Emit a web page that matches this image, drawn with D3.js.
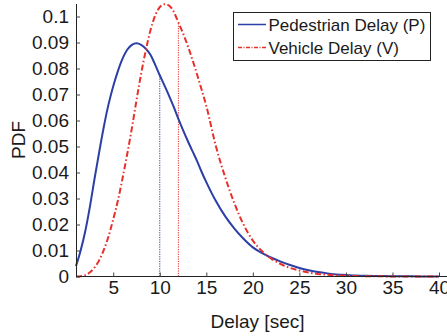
<!DOCTYPE html>
<html>
<head>
<meta charset="utf-8">
<script src="https://cdn.jsdelivr.net/npm/d3@7"></script>
<style>
  body { margin: 0; background: #fff; }
  svg { display: block; }
  text { font-family: "Liberation Sans", Arial, Helvetica, sans-serif; fill: #1a1a1a; }
</style>
</head>
<body>
<svg id="chart" width="447" height="336"></svg>
<script>
// Delay values (seconds) at which both densities are sampled
const delay = [1, 1.5, 2, 2.5, 3, 3.5, 4, 4.5, 5, 5.5, 6, 6.5, 7, 7.5, 8, 8.5, 9, 9.5,
  10, 10.5, 11, 11.5, 12, 12.5, 13, 13.5, 14, 14.5, 15,
  16, 17, 18, 19, 20, 21, 22, 23, 24, 25, 26, 27, 28, 29, 30,
  31, 32, 33, 34, 35, 36, 37, 38, 39, 40];

// Pedestrian delay PDF
const pedestrianPdf = [0.0040, 0.0100, 0.0175, 0.0270, 0.0378, 0.0480, 0.0578, 0.0663, 0.0732, 0.0790,
  0.0838, 0.0872, 0.0891, 0.0897, 0.0891, 0.0876, 0.0853, 0.0815,
  0.0774, 0.0735, 0.0695, 0.0652, 0.0606, 0.0563, 0.0522, 0.0483, 0.0445, 0.0402, 0.0363,
  0.0292, 0.0233, 0.0185, 0.0145, 0.0112, 0.0090, 0.0072, 0.0057, 0.0044, 0.0033, 0.0024,
  0.0017, 0.0012, 0.0008, 0.0006, 0.0004, 0.0003, 0.0002, 0.00015, 0.0001, 0.00007,
  0.00005, 0.00004, 0.00003, 0.00002];

// Vehicle delay PDF
const vehiclePdf = [0.0000, 0.0001, 0.0005, 0.0016, 0.0035, 0.0063, 0.0103, 0.0155, 0.0220, 0.0292,
  0.0378, 0.0470, 0.0570, 0.0678, 0.0780, 0.0870, 0.0947, 0.1003,
  0.1036, 0.1047, 0.1042, 0.1018, 0.0977, 0.0935, 0.0888, 0.0835, 0.0778, 0.0718, 0.0656,
  0.0505, 0.0385, 0.0283, 0.0200, 0.0138, 0.0097, 0.0068, 0.0048, 0.0033, 0.0023, 0.0015,
  0.0010, 0.0007, 0.0004, 0.0003, 0.0002, 0.00013, 0.00008, 0.00005, 0.00003, 0.00002,
  0.00001, 0.00001, 0.0, 0.0];

// Mean delays marked with dotted lines: pedestrian, vehicle
const meanDelays = [10, 12];
const seriesNames = ["Pedestrian Delay (P)", "Vehicle Delay (V)"];
const seriesColors = ["#2b3fa6", "#e8302a"];

const xTicks = [5, 10, 15, 20, 25, 30, 35, 40];
const yTicks = [0, 0.01, 0.02, 0.03, 0.04, 0.05, 0.06, 0.07, 0.08, 0.09, 0.1];
const yTickLabels = ["0", "0.01", "0.02", "0.03", "0.04", "0.05", "0.06", "0.07", "0.08", "0.09", "0.1"];

const svg = d3.select("#chart");
const plot = { left: 76, right: 439, top: 3.5, bottom: 276.5 };

const x = d3.scaleLinear().domain([1, 40]).range([plot.left, plot.right]);
const y = d3.scaleLinear().domain([0, 0.105]).range([plot.bottom, plot.top]);

const series = [pedestrianPdf, vehiclePdf].map((vals, i) => ({
  name: seriesNames[i],
  color: seriesColors[i],
  mean: meanDelays[i],
  points: delay.map((d, j) => ({ x: d, y: vals[j] }))
}));

// Dotted mean markers, rising from the axis to each curve
series.forEach(s => {
  const at = s.points.find(p => p.x === s.mean);
  svg.append("line")
    .attr("x1", x(s.mean)).attr("x2", x(s.mean))
    .attr("y1", y(0)).attr("y2", y(at.y))
    .attr("stroke", s.color)
    .attr("stroke-width", 1)
    .attr("stroke-dasharray", "1.2,1.2");
});

const line = d3.line()
  .x(d => x(d.x))
  .y(d => y(d.y))
  .curve(d3.curveMonotoneX);

// Pedestrian: solid; Vehicle: dash-dot
svg.append("path")
  .attr("d", line(series[0].points))
  .attr("fill", "none")
  .attr("stroke", series[0].color)
  .attr("stroke-width", 2);

svg.append("path")
  .attr("d", line(series[1].points))
  .attr("fill", "none")
  .attr("stroke", series[1].color)
  .attr("stroke-width", 2)
  .attr("stroke-dasharray", "6,2.5,1.5,2.5");

// Axes with inward ticks
const xAxis = d3.axisBottom(x)
  .tickValues(xTicks)
  .tickSizeInner(-4)
  .tickSizeOuter(0)
  .tickPadding(4.5)
  .tickFormat(d3.format("d"));

const yAxis = d3.axisLeft(y)
  .tickValues(yTicks)
  .tickSizeInner(-4)
  .tickSizeOuter(0)
  .tickPadding(7)
  .tickFormat((d, i) => yTickLabels[i]);

const gx = svg.append("g")
  .attr("transform", `translate(0,${plot.bottom})`)
  .call(xAxis);
gx.select(".domain").attr("d", `M${plot.left},0H447`);

const gy = svg.append("g")
  .attr("transform", `translate(${plot.left},0)`)
  .call(yAxis);

[gx, gy].forEach(g => {
  g.select(".domain").attr("stroke", "#222").attr("stroke-width", 1);
  g.selectAll(".tick line").attr("stroke", "#444");
  g.selectAll(".tick text")
    .attr("font-size", 19)
    .attr("fill", "#1a1a1a")
    .style("font-family", "'Liberation Sans', Arial, sans-serif");
});

// Axis titles
svg.append("text")
  .attr("x", (plot.left + plot.right) / 2)
  .attr("y", 327.5)
  .attr("text-anchor", "middle")
  .attr("font-size", 19)
  .text("Delay [sec]");

svg.append("text")
  .attr("transform", `translate(25,${(plot.top + plot.bottom) / 2}) rotate(-90)`)
  .attr("text-anchor", "middle")
  .attr("font-size", 19)
  .text("PDF");

// Legend
const legend = svg.append("g");
legend.append("rect")
  .attr("x", 233.5).attr("y", 12.5)
  .attr("width", 197).attr("height", 48)
  .attr("fill", "#fff")
  .attr("stroke", "#222")
  .attr("stroke-width", 1);

series.forEach((s, i) => {
  const ly = 24.5 + i * 23;
  legend.append("line")
    .attr("x1", 238).attr("x2", 266)
    .attr("y1", ly).attr("y2", ly)
    .attr("stroke", s.color)
    .attr("stroke-width", 1.5)
    .attr("stroke-dasharray", i === 1 ? "4,1.5,1,1.5" : null);
  legend.append("text")
    .attr("x", 268.5)
    .attr("y", ly + 6.5)
    .attr("font-size", 17)
    .text(s.name);
});
</script>
</body>
</html>
